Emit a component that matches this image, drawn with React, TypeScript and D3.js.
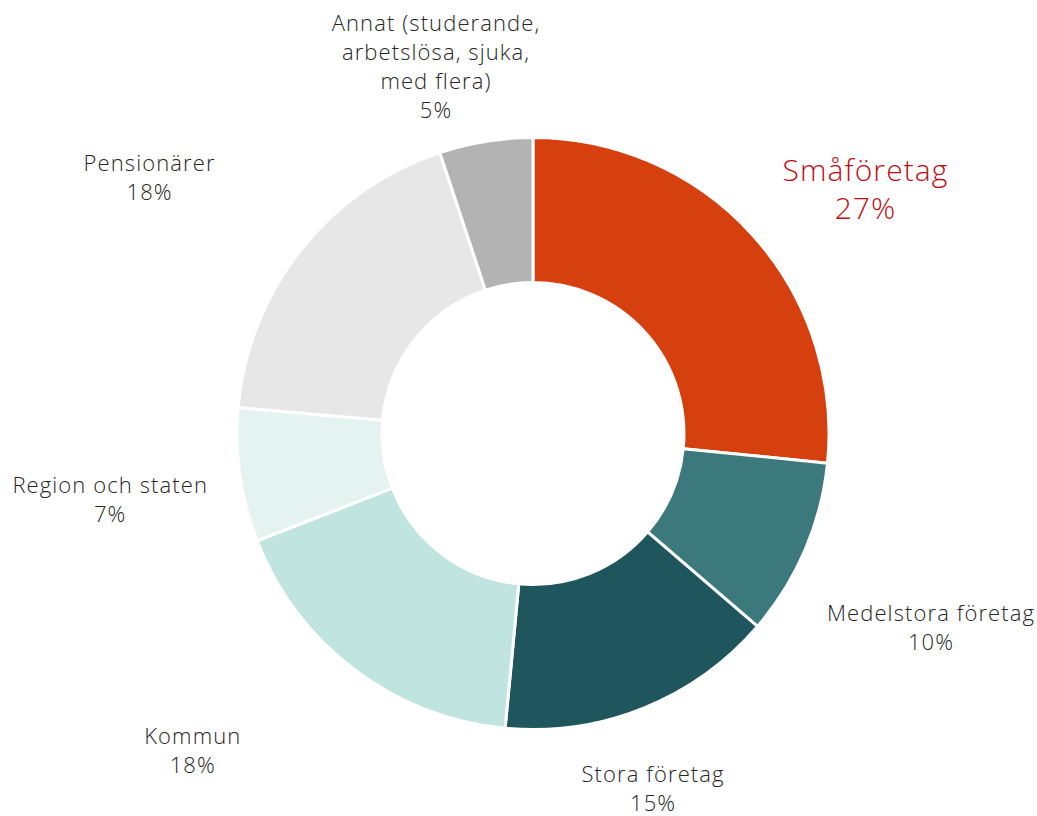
import React, { useEffect, useRef } from 'react';
import * as d3 from 'd3';

// Data
const categories = [
  'Småföretag',
  'Medelstora företag',
  'Stora företag',
  'Kommun',
  'Region och staten',
  'Pensionärer',
  'Annat (studerande, arbetslösa, sjuka, med flera)',
];
const shares = [26.6, 9.7, 15.2, 17.6, 7.3, 18.5, 5.1];
const shareLabels = ['27%', '10%', '15%', '18%', '7%', '18%', '5%'];
const labelLines = [
  ['Småföretag'],
  ['Medelstora företag'],
  ['Stora företag'],
  ['Kommun'],
  ['Region och staten'],
  ['Pensionärer'],
  ['Annat (studerande,', 'arbetslösa, sjuka,', 'med flera)'],
];

const colors = ['#d63f0e', '#3c797d', '#1f555d', '#c0e4df', '#e4f3f0', '#e7e7e7', '#b2b3b2'];
// label nudges relative to the centroid on the label ring
const nudges: [number, number][] = [
  [21, 37],
  [12, 28],
  [-37, -34],
  [-87, -18],
  [-7, 7],
  [-54, 5],
  [-30, 48],
];

const App = () => {
  const ref = useRef<SVGSVGElement>(null);

  useEffect(() => {
    const width = 1037;
    const height = 816;
    const cx = 533;
    const cy = 433.5;
    const outer = 296;
    const inner = 151;
    const labelR = 420;

    const svg = d3.select(ref.current);
    svg.selectAll('*').remove();
    svg.attr('width', width).attr('height', height);

    const data = categories.map((c, i) => ({ name: c, value: shares[i], i }));
    const pie = d3
      .pie<any>()
      .value((d) => d.value)
      .sort(null);
    const arcs = pie(data);

    const arc = d3.arc<any>().innerRadius(inner).outerRadius(outer);

    const g = svg.append('g').attr('transform', `translate(${cx},${cy})`);

    g.selectAll('path')
      .data(arcs)
      .enter()
      .append('path')
      .attr('d', arc as any)
      .attr('fill', (d) => colors[d.data.i])
      .attr('stroke', '#ffffff')
      .attr('stroke-width', 3)
      .attr('stroke-linejoin', 'round');

    // labels
    arcs.forEach((a) => {
      const i = a.data.i;
      const mid = (a.startAngle + a.endAngle) / 2;
      const px = Math.sin(mid) * labelR + nudges[i][0];
      const py = -Math.cos(mid) * labelR + nudges[i][1];
      const big = i === 0;
      const fs = big ? 30 : 22;
      const lh = big ? 38 : 29;
      const lines = [...labelLines[i], shareLabels[i]];
      const first = py - ((lines.length - 1) * lh) / 2 + fs * 0.36;
      const t = g
        .append('text')
        .attr('text-anchor', 'middle')
        .attr('font-family', "'Open Sans', sans-serif")
        .attr('font-weight', 300)
        .attr('font-size', fs)
        .attr('letter-spacing', 1.1)
        .attr('fill', big ? '#c00d14' : '#262626');
      lines.forEach((l, k) => {
        t.append('tspan')
          .attr('x', px)
          .attr('y', first + k * lh)
          .text(l);
      });
    });
  }, []);

  return (
    <div style={{ position: 'absolute', left: 0, top: 0 }}>
      <svg ref={ref} style={{ display: 'block' }}></svg>
    </div>
  );
};

export default App;
